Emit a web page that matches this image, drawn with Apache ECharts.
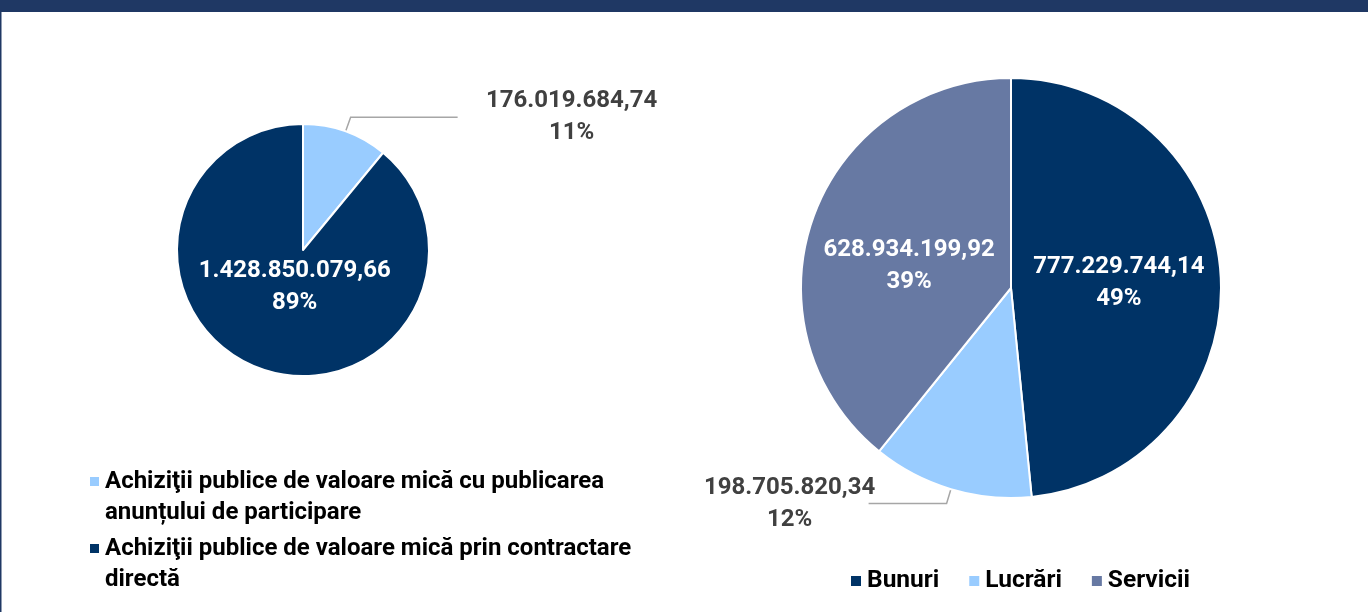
<!DOCTYPE html>
<html>
<head>
<meta charset="utf-8">
<script src="https://cdn.jsdelivr.net/npm/echarts@6/dist/echarts.min.js"></script>
<style>
  html, body { margin: 0; padding: 0; background: #fff; }
  #main { width: 1368px; height: 612px; }
</style>
</head>
<body>
<div id="main"></div>
<script>
// date
var modNames = [
    'Achiziţii publice de valoare mică cu publicarea anunțului de participare',
    'Achiziţii publice de valoare mică prin contractare directă'
];
var modValues = [176019684.74, 1428850079.66];
var modPercents = [11, 89];

var tipNames = ['Bunuri', 'Lucrări', 'Servicii'];
var tipValues = [777229744.14, 198705820.34, 628934199.92];
var tipPercents = [49, 12, 39];

var navy = '#003366', light = '#99CCFF', slate = '#6779A3';

// format românesc: 1.234.567,89
function fmt(v) {
    var parts = v.toFixed(2).split('.');
    return parts[0].replace(/\B(?=(\d{3})+(?!\d))/g, '.') + ',' + parts[1];
}

function mkData(names, values, colors) {
    return names.map(function(n, i) {
        return { name: n, value: values[i], itemStyle: { color: colors[i] } };
    });
}

var fontFam = 'Roboto, "Liberation Sans", sans-serif';

var richText = {
    o: { width: 172, align: 'center', fontSize: 24, fontWeight: 'bold', fontFamily: fontFam, lineHeight: 32, color: '#404040' },
    w: { width: 180, align: 'center', fontSize: 24, fontWeight: 'bold', fontFamily: fontFam, lineHeight: 32, color: '#fff' }
};
var leaderStyle = { color: '#a6a6a6', width: 1.5 };

var myChart = echarts.init(document.getElementById('main'));

var leftData = mkData(modNames, modValues, [light, navy]);
leftData[0].label = {
    position: 'outside', distanceToLabelLine: 28, rich: richText,
    formatter: function(p) { return '{o|' + fmt(p.value) + '}\n{o|' + modPercents[p.dataIndex] + '%}'; }
};
leftData[0].labelLine = { show: true, length: 15, length2: 107, lineStyle: leaderStyle };

var rightData = mkData(tipNames, tipValues, [navy, light, slate]);
rightData[1].label = {
    position: 'outside', distanceToLabelLine: -7, rich: richText,
    formatter: function(p) { return '{o|' + fmt(p.value) + '}\n{o|' + tipPercents[p.dataIndex] + '%}'; }
};
rightData[1].labelLine = { show: true, length: 15, length2: 78, lineStyle: leaderStyle };

var option = {
    animation: false,
    graphic: [
        { type: 'rect', left: 0, top: 0, shape: { width: 1368, height: 12 }, style: { fill: '#1F3864' } },
        { type: 'rect', left: 0, top: 12, shape: { width: 1.5, height: 600 }, style: { fill: '#1F3864' } }
    ],
    legend: [
        {
            data: modNames,
            orient: 'vertical',
            left: 88,
            top: 435,
            padding: 0,
            itemWidth: 11,
            itemHeight: 11,
            itemGap: -26,
            icon: 'rect',
            // linie goală deasupra ca pătratul să stea în dreptul primului rând
            formatter: function(name) { return ' \n' + name; },
            textStyle: {
                width: 580, overflow: 'break', lineHeight: 31,
                fontSize: 24, fontWeight: 'bold', fontFamily: fontFam, color: '#000'
            }
        },
        {
            data: tipNames,
            orient: 'horizontal',
            left: 849,
            top: 568,
            padding: 0,
            itemWidth: 12,
            itemHeight: 12,
            itemGap: 28,
            icon: 'rect',
            textStyle: { fontSize: 24.5, lineHeight: 26, fontWeight: 'bold', fontFamily: fontFam, color: '#000' }
        }
    ],
    series: [
        {
            name: 'Modalitate',
            type: 'pie',
            center: [303, 250],
            radius: 126,
            startAngle: 90,
            clockwise: true,
            avoidLabelOverlap: false,
            itemStyle: { borderColor: '#fff', borderWidth: 2 },
            label: {
                position: 'inside',
                formatter: function(p) { return '{w|' + fmt(p.value) + '}\n{w|' + modPercents[p.dataIndex] + '%}'; },
                rich: richText
            },
            labelLine: { show: false },
            labelLayout: function(p) {
                if (p.dataIndex === 1) return { dx: 14, dy: -25 };
            },
            data: leftData
        },
        {
            name: 'Tip',
            type: 'pie',
            center: [1011, 288],
            radius: 210,
            startAngle: 90,
            clockwise: true,
            avoidLabelOverlap: false,
            itemStyle: { borderColor: '#fff', borderWidth: 2 },
            label: {
                position: 'inside',
                formatter: function(p) { return '{w|' + fmt(p.value) + '}\n{w|' + tipPercents[p.dataIndex] + '%}'; },
                rich: richText
            },
            labelLine: { show: false },
            labelLayout: function(p) {
                if (p.dataIndex === 2) return { dy: 14 };
            },
            data: rightData
        }
    ]
};

myChart.setOption(option);
</script>
</body>
</html>
